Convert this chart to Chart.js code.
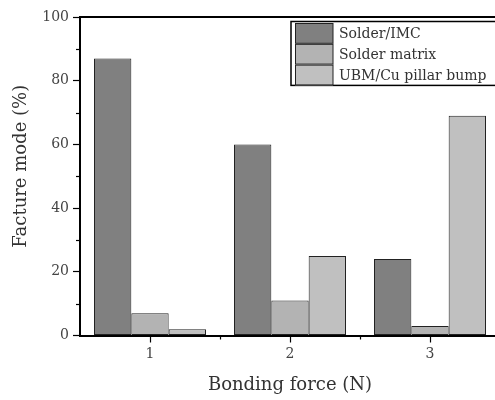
<!DOCTYPE html>
<html>
<head>
<meta charset="utf-8">
<script src="https://cdn.jsdelivr.net/npm/chart.js@4.4.1/dist/chart.umd.min.js"></script>
<style>
  html, body { margin: 0; padding: 0; background: #fff; overflow: hidden; }
  #wrap { width: 495px; height: 400px; overflow: hidden; }
  canvas { display: block; }
</style>
</head>
<body>
<div id="wrap"><canvas id="fractureChart" width="500" height="400"></canvas></div>
<script>
// data
const categories = ['1', '2', '3'];
const seriesNames = ['Solder/IMC', 'Solder matrix', 'UBM/Cu pillar bump'];
const solderImc = [87, 60, 24];
const solderMatrix = [7, 11, 3];
const ubmPillar = [2, 25, 69];
const yTicks = [0, 20, 40, 60, 80, 100];
const yMinorTicks = [10, 30, 50, 70, 90];

const fills = ['#808080', '#b3b3b3', '#c0c0c0'];
const fontFamily = '"DejaVu Serif", "Liberation Serif", serif';
const yTitle = 'Facture mode (%)';

// frame line on top, minor ticks, y title, legend box inside the plot
const extrasPlugin = {
  id: 'extras',
  afterDraw(chart) {
    const ctx = chart.ctx;
    const area = chart.chartArea;
    const x = chart.scales.x;
    const y = chart.scales.y;
    ctx.save();
    ctx.strokeStyle = '#000';

    // top border
    ctx.lineWidth = 2;
    ctx.beginPath();
    ctx.moveTo(area.left - 1, area.top);
    ctx.lineTo(area.right, area.top);
    ctx.stroke();

    // minor ticks
    ctx.lineWidth = 1.2;
    yMinorTicks.forEach(v => {
      const py = Math.round(y.getPixelForValue(v)) + 0.5;
      ctx.beginPath();
      ctx.moveTo(area.left - 4, py);
      ctx.lineTo(area.left, py);
      ctx.stroke();
    });
    for (let i = 0; i < categories.length - 1; i++) {
      const px = Math.round((x.getPixelForValue(i) + x.getPixelForValue(i + 1)) / 2) + 0.5;
      ctx.beginPath();
      ctx.moveTo(px, area.bottom);
      ctx.lineTo(px, area.bottom + 4);
      ctx.stroke();
    }

    // y title, sits a little above the axis middle like the original
    ctx.save();
    ctx.translate(21, (area.top + area.bottom) / 2 - 10);
    ctx.rotate(-Math.PI / 2);
    ctx.font = '18px ' + fontFamily;
    ctx.fillStyle = '#333';
    ctx.textAlign = 'center';
    ctx.textBaseline = 'middle';
    ctx.fillText(yTitle, 0, 0);
    ctx.restore();

    // legend
    const lx = area.left + 211, ly = area.top + 4.5, rowH = 20.8;
    const n = chart.data.datasets.length;
    ctx.fillStyle = '#fff';
    ctx.fillRect(lx, ly, area.right - lx, rowH * n + 1.5);
    ctx.lineWidth = 1.5;
    ctx.strokeRect(lx, ly, area.right - lx + 5, rowH * n + 1.5);
    ctx.font = '14px ' + fontFamily;
    ctx.textBaseline = 'middle';
    ctx.textAlign = 'left';
    chart.data.datasets.forEach((ds, i) => {
      const top = ly + 1.5 + i * rowH;
      ctx.fillStyle = ds.backgroundColor;
      ctx.fillRect(lx + 4, top, 38, rowH);
      ctx.lineWidth = 1;
      ctx.strokeStyle = '#222';
      ctx.strokeRect(lx + 4.5, top + 0.5, 37.5, rowH - 1);
      ctx.fillStyle = '#333';
      ctx.fillText(ds.label, lx + 48, top + rowH / 2 + 1);
    });
    ctx.restore();
  }
};

const datasets = [solderImc, solderMatrix, ubmPillar].map((values, i) => ({
  label: seriesNames[i],
  data: values,
  backgroundColor: fills[i],
  borderColor: '#222',
  borderWidth: 1,
  borderSkipped: false,
  categoryPercentage: 0.8,
  barPercentage: 1.0
}));

new Chart(document.getElementById('fractureChart'), {
  type: 'bar',
  data: { labels: categories, datasets: datasets },
  plugins: [extrasPlugin],
  options: {
    responsive: false,
    animation: false,
    layout: { padding: { top: 17, right: 0, left: 0, bottom: 0 } },
    plugins: {
      legend: { display: false },
      tooltip: { enabled: false }
    },
    scales: {
      x: {
        afterFit(scale) { scale.height = 64.5; },
        grid: {
          offset: false,
          drawOnChartArea: false,
          tickLength: 7,
          tickWidth: 1.2,
          tickColor: '#000'
        },
        border: { color: '#000', width: 2 },
        ticks: {
          padding: 3,
          color: '#444',
          font: { family: fontFamily, size: 14 }
        },
        title: {
          display: true,
          text: 'Bonding force (N)',
          color: '#333',
          font: { family: fontFamily, size: 18 },
          padding: { top: 0, bottom: 4 }
        }
      },
      y: {
        min: 0,
        max: 100,
        afterFit(scale) { scale.width = 80; },
        afterBuildTicks(scale) { scale.ticks = yTicks.map(v => ({ value: v })); },
        grid: {
          drawOnChartArea: false,
          tickLength: 7,
          tickWidth: 1.2,
          tickColor: '#000'
        },
        border: { color: '#000', width: 2 },
        ticks: {
          padding: 4,
          color: '#444',
          font: { family: fontFamily, size: 14 }
        },
        title: { display: false }
      }
    }
  }
});
</script>
</body>
</html>
